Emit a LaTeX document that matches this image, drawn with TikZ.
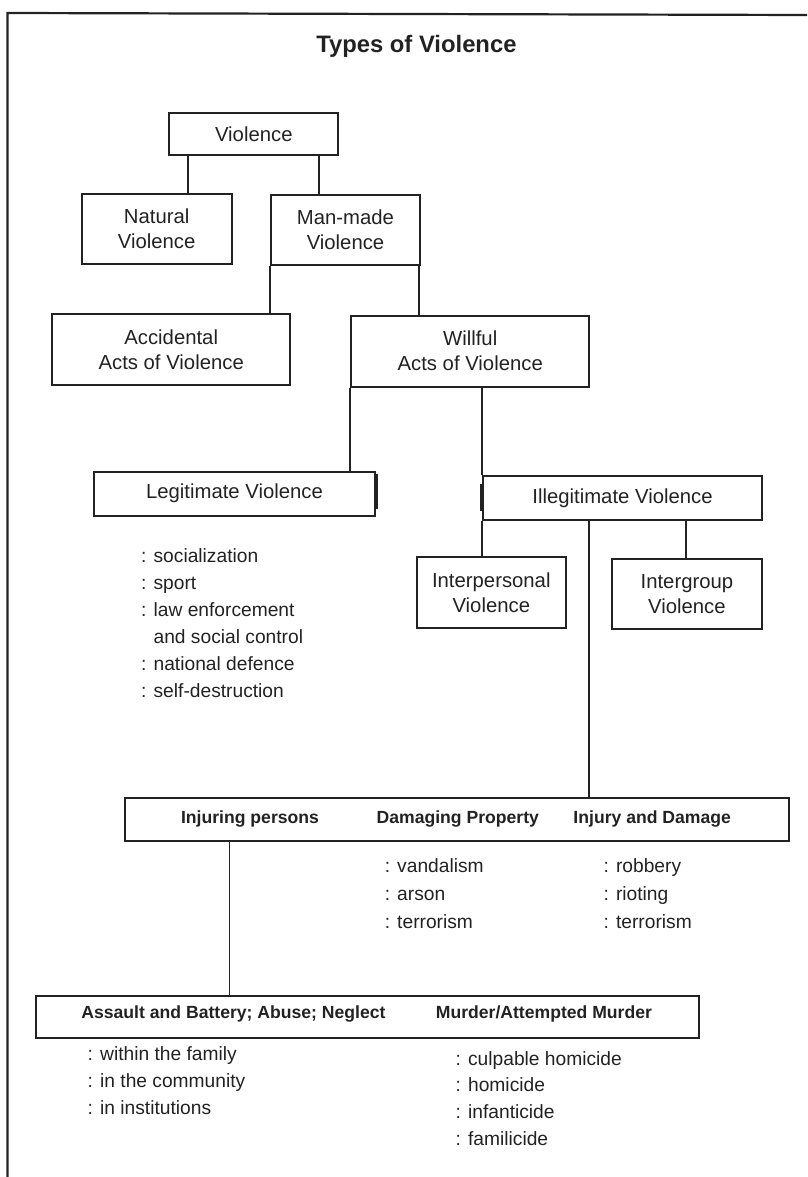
\documentclass[tikz,border=0pt]{standalone}
\usepackage{fontspec}
\setmainfont{Liberation Sans}
\definecolor{inkgray}{HTML}{222222}

\begin{document}
\begin{tikzpicture}[x=1pt,y=-1pt,
  box/.style={draw=inkgray,line width=2pt,inner sep=0pt,align=center,text=inkgray,font=\fontsize{20.3}{25}\selectfont},
  head/.style={anchor=base,inner sep=0pt,text=inkgray,font=\bfseries\fontsize{17.6}{21}\selectfont},
  item/.style={anchor=base west,inner sep=0pt,text=inkgray,font=\fontsize{19.2}{23}\selectfont},
  link/.style={draw=inkgray,line width=1.8pt},
  edgemark/.style={draw=inkgray,line width=4pt}]
\useasboundingbox (0,0) rectangle (807,1177);
\draw[inkgray,line width=2.2pt] (807,15) -- (7.5,13) -- (7.5,1177);
\node[anchor=base,text=inkgray,font=\bfseries\fontsize{23.8}{28}\selectfont] (title) at (416.4,52.7) {Types of Violence};
% upper tree
\node[box,minimum width=169pt,minimum height=42.3pt] (violence) at (253.8,133.9) {Violence};
\node[box,minimum width=150pt,minimum height=70pt] (natural) at (156.7,229) {Natural\\Violence};
\node[box,minimum width=149pt,minimum height=70pt] (manmade) at (345.5,230) {Man-made\\Violence};
\node[box,minimum width=237.7pt,minimum height=71pt] (accidental) at (171.2,349.5) {Accidental\\Acts of Violence};
\node[box,minimum width=238.3pt,minimum height=71.2pt] (willful) at (470.2,351.1) {Willful\\Acts of Violence};
\node[box,minimum width=280.3pt,minimum height=44pt] (legit) at (234.5,493.7) {Legitimate Violence};
\node[box,minimum width=279.6pt,minimum height=44pt] (illegit) at (622.5,498) {Illegitimate Violence};
\node[box,minimum width=148.7pt,minimum height=71pt] (interpersonal) at (491.3,592.5) {Interpersonal\\Violence};
\node[box,minimum width=149.7pt,minimum height=70pt] (intergroup) at (686.9,594) {Intergroup\\Violence};
\draw[edgemark] ([yshift=-3pt]legit.north east) -- ([yshift=8pt]legit.south east);
\draw[edgemark] ([yshift=-9pt]illegit.north west) -- ([yshift=10pt]illegit.south west);
\foreach \t [count=\i from 0] in {: socialization,: sport,: law enforcement,{\hphantom{: }and social control},: national defence,: self-destruction}
  \node[item] (legit-\i) at (141,562+27.1*\i) {\t};
% lower boxes
\node[box,minimum width=664pt,minimum height=43.5pt] (injbox) at (457,819.7) {};
\node[head] (injpersons) at (250,823) {Injuring persons};
\node[head] (damproperty) at (457.8,823) {Damaging Property};
\node[head] (injdamage) at (652.2,823) {Injury and Damage};
\foreach \t [count=\i from 0] in {vandalism,arson,terrorism}
  \node[item] (dam-\i) at (384.6,872+28*\i) {: \t};
\foreach \t [count=\i from 0] in {robbery,rioting,terrorism}
  \node[item] (injd-\i) at (603.4,872+28*\i) {: \t};
\node[box,minimum width=663.5pt,minimum height=42pt] (assaultbox) at (367.7,1017) {};
\node[head] (assault) at (233.5,1018) {Assault and Battery; Abuse; Neglect};
\node[head] (murder) at (543.9,1018) {Murder/Attempted Murder};
\foreach \t [count=\i from 0] in {within the family,in the community,in institutions}
  \node[item] (asl-\i) at (87.5,1060+27*\i) {: \t};
\foreach \t [count=\i from 0] in {culpable homicide,homicide,infanticide,familicide}
  \node[item] (mur-\i) at (455.5,1065+26.7*\i) {: \t};
% connectors
\draw[link] (violence.south -| 188.3,0) -- (natural.north -| 188.3,0);
\draw[link] (violence.south -| 319.3,0) -- (manmade.north -| 319.3,0);
\draw[link] (manmade.south west) -- (accidental.north -| manmade.west);
\draw[link] (manmade.south -| 419,0) -- (willful.north -| 419,0);
\draw[link] (willful.south west) -- (legit.north -| willful.west);
\draw[link] (willful.south -| illegit.west) -- (illegit.north west);
\draw[link] (illegit.south west) -- (interpersonal.north -| illegit.west);
\draw[link] (illegit.south -| 686,0) -- (intergroup.north -| 686,0);
\draw[link] (illegit.south -| 589,0) -- (injbox.north -| 589,0);
\draw[link] (injbox.south -| 229.5,0) -- (assaultbox.north -| 229.5,0);
\end{tikzpicture}
\end{document}
